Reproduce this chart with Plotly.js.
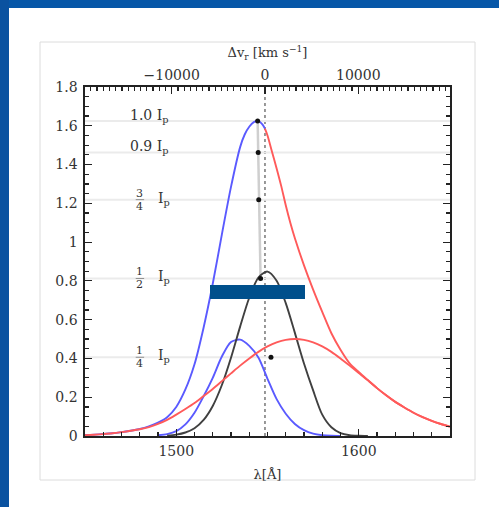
<!DOCTYPE html>
<html><head><meta charset="utf-8">
<script src="https://cdn.plot.ly/plotly-3.0.1.min.js"></script>
<style>html,body{margin:0;padding:0;background:#fff;overflow:hidden}#chart{width:499px;height:507px}</style>
</head><body><div id="chart"></div>
<script>
// ---- data ----
const restWavelength = 1548.6;          // Δv = 0 (dashed line)
const totalLambda = [1450,1455,1460,1465,1470,1475,1480,1485,1490,1495,1500,1505,1510,1515,1520,1525,1530,1535,1537.5,1540,1542.5,1545,1547.5,1548.6,1550,1552.5,1555,1557.5,1560,1562.5,1565,1570,1575,1580,1585,1590,1595,1600,1605,1610,1615,1620,1625,1630,1635,1640,1645,1650];
const totalFlux   = [0.005,0.007,0.010,0.014,0.020,0.027,0.036,0.050,0.069,0.097,0.150,0.240,0.370,0.560,0.785,1.040,1.285,1.490,1.555,1.595,1.619,1.625,1.603,1.585,1.550,1.465,1.380,1.290,1.190,1.100,1.020,0.880,0.755,0.640,0.530,0.445,0.375,0.330,0.288,0.247,0.210,0.176,0.147,0.120,0.097,0.078,0.062,0.048];

const broadLambda = [1450,1455,1460,1465,1470,1475,1480,1485,1490,1495,1500,1505,1510,1515,1520,1525,1530,1535,1540,1545,1550,1555,1560,1565,1570,1575,1580,1585,1590,1595,1600,1605,1610,1615,1620,1625,1630,1635,1640,1645,1650];
const broadFlux   = [0.0045,0.0068,0.0099,0.014,0.020,0.027,0.035,0.046,0.062,0.083,0.110,0.139,0.170,0.206,0.243,0.283,0.323,0.363,0.400,0.434,0.462,0.483,0.496,0.500,0.496,0.483,0.462,0.434,0.400,0.363,0.325,0.287,0.247,0.210,0.176,0.147,0.120,0.097,0.078,0.062,0.048];

const narrowLambda = [1490,1495,1500,1505,1510,1515,1520,1525,1530,1535,1540,1545,1550,1555,1560,1565,1570,1575,1580,1585,1590];
const narrowFlux   = [0.004,0.010,0.025,0.060,0.120,0.205,0.300,0.410,0.485,0.497,0.465,0.405,0.295,0.190,0.115,0.062,0.030,0.012,0.004,0.001,0.000];

const coreLambda = [1495,1500,1505,1510,1515,1520,1525,1530,1535,1540,1545,1550,1555,1560,1565,1570,1575,1580,1585,1590,1595,1600,1605];
const coreFlux   = [0.002,0.007,0.018,0.040,0.083,0.155,0.263,0.404,0.564,0.713,0.817,0.848,0.801,0.685,0.532,0.374,0.235,0.110,0.045,0.015,0.004,0.001,0.000];

const levelFraction = ["1.0", "0.9", "3/4", "1/2", "1/4"];
const levelValues   = [1.625, 1.4625, 1.219, 0.8125, 0.406];
const bisectorLambda = [1544.6, 1544.9, 1545.2, 1546.2, 1551.9];

const yTickVals = [0,0.2,0.4,0.6,0.8,1,1.2,1.4,1.6,1.8];
const yTickText = ["0","0.2","0.4","0.6","0.8","1","1.2","1.4","1.6","1.8"];
const xTickVals = [1500,1600];
const xTickText = ["1500","1600"];
const velTickVals = [-10000,0,10000];
const velTickText = ["\u221210000","0","10000"];

// ---- build ----
const blueL=[],blueF=[],redL=[],redF=[];
totalLambda.forEach((l,i)=>{ if(l<=restWavelength){blueL.push(l);blueF.push(totalFlux[i]);} if(l>=restWavelength){redL.push(l);redF.push(totalFlux[i]);} });

const FONT = "DejaVu Serif, Liberation Serif, serif";
const BLUE="#5a5aff", RED="#ff5a5a", BLACK="#404040";
const ln = (c)=>({color:c,width:1.9,shape:"spline",smoothing:0.8});

const traces = [
  {x:bisectorLambda.slice(0,4), y:levelValues.slice(0,4), mode:"lines", line:{color:"#cfcfcf",width:2.5}, hoverinfo:"skip"},
  {x:blueL, y:blueF, mode:"lines", line:ln(BLUE)},
  {x:narrowLambda, y:narrowFlux, mode:"lines", line:ln(BLUE)},
  {x:coreLambda, y:coreFlux, mode:"lines", line:ln(BLACK)},
  {x:broadLambda, y:broadFlux, mode:"lines", line:ln(RED)},
  {x:redL, y:redF, mode:"lines", line:ln(RED)},
  {x:bisectorLambda, y:levelValues, mode:"markers", marker:{color:"#111",size:5}},
  {x:velTickVals, y:[null,null,null], xaxis:"x2", mode:"markers", hoverinfo:"skip"}
];

const px2x = p => (p-85)/365, px2y = p => (436-p)/349;
const shapes = [
  {type:"rect",xref:"paper",yref:"paper",x0:px2x(40),x1:px2x(475),y0:px2y(480),y1:px2y(42),line:{color:"#dcdcdc",width:1},fillcolor:"rgba(0,0,0,0)",layer:"below"},
  {type:"rect",xref:"paper",yref:"paper",x0:px2x(-5),x1:px2x(505),y0:px2y(8),y1:px2y(-5),line:{width:0},fillcolor:"#0757a8",layer:"above"},
  {type:"rect",xref:"paper",yref:"paper",x0:px2x(-5),x1:px2x(9),y0:px2y(512),y1:px2y(-5),line:{width:0},fillcolor:"#0a52a0",layer:"above"},
  {type:"line",xref:"x2",yref:"paper",x0:0,x1:0,y0:0,y1:1,line:{color:"#555",width:1.2,dash:"3px,3px"},layer:"below"},
  {type:"rect",xref:"paper",yref:"paper",x0:px2x(210),x1:px2x(305),y0:px2y(299),y1:px2y(285),line:{width:0},fillcolor:"#00508c",layer:"above"}
];
levelValues.forEach(v=>shapes.push({type:"line",xref:"paper",yref:"y",x0:0,x1:1,y0:v,y1:v,line:{color:"#ebebeb",width:2},layer:"below"}));

const annotations = [];
const tf = {family:FONT,size:14,color:"#333"};
const ff = {family:FONT,size:11,color:"#333"};
levelFraction.forEach((f,i)=>{
  const v = levelValues[i];
  if(f.indexOf("/")<0){
    annotations.push({x:1473.6,y:v,xref:"x",yref:"y",xanchor:"left",yanchor:"middle",yshift:5,showarrow:false,text:f+" I<sub>p</sub>",font:tf});
  } else {
    const [n,d]=f.split("/");
    annotations.push({x:1480.1,y:v,xref:"x",yref:"y",xanchor:"center",yanchor:"bottom",yshift:-2,showarrow:false,text:n,font:ff});
    annotations.push({x:1480.1,y:v,xref:"x",yref:"y",xanchor:"center",yanchor:"top",yshift:2,showarrow:false,text:d,font:ff});
    annotations.push({x:1488.9,y:v,xref:"x",yref:"y",xanchor:"left",yanchor:"middle",yshift:1,showarrow:false,text:"I<sub>p</sub>",font:tf});
    shapes.push({type:"line",xref:"x",yref:"y",x0:1477.8,x1:1482.4,y0:v,y1:v,line:{color:"#777",width:0.8}});
  }
});

const axCommon = {ticks:"inside",ticklen:7,tickwidth:1.2,tickcolor:"#222",showgrid:false,zeroline:false,tickfont:{family:FONT,size:14,color:"#333"}};
const layout = {
  width:499,height:507,margin:{l:85,r:49,t:87,b:71},
  paper_bgcolor:"#fff",plot_bgcolor:"#fff",showlegend:false,
  xaxis:Object.assign({},axCommon,{range:[1450,1650],tickmode:"array",tickvals:xTickVals,ticktext:xTickText,
    minor:{tickmode:"linear",tick0:1450,dtick:10,ticks:"inside",ticklen:4,tickcolor:"#222"},
    showline:true,linecolor:"#222",linewidth:1.6,mirror:true,ticklabelstandoff:2,
    title:{text:"\u03bb[\u00c5]",font:{family:FONT,size:13,color:"#333"},standoff:11}}),
  xaxis2:Object.assign({},axCommon,{overlaying:"x",side:"top",anchor:"y",range:[-19290,19830],tickmode:"array",tickvals:velTickVals,ticktext:velTickText,
    minor:{tickmode:"linear",tick0:0,dtick:10000/15,ticks:"inside",ticklen:4,tickcolor:"#222"},
    showline:false,ticklabelstandoff:3,
    title:{text:"\u0394v<sub>r</sub> [km s<sup>\u22121</sup>]",font:{family:FONT,size:13,color:"#333"},standoff:6}}),
  yaxis:Object.assign({},axCommon,{range:[0,1.8],tickmode:"array",tickvals:yTickVals,ticktext:yTickText,
    minor:{tickmode:"linear",tick0:0,dtick:0.05,ticks:"inside",ticklen:4,tickcolor:"#222"},
    showline:true,linecolor:"#222",linewidth:1.6,mirror:"ticks",ticklabelstandoff:3}),
  shapes:shapes, annotations:annotations
};
Plotly.newPlot("chart",traces,layout,{displayModeBar:false,staticPlot:true});
</script></body></html>
